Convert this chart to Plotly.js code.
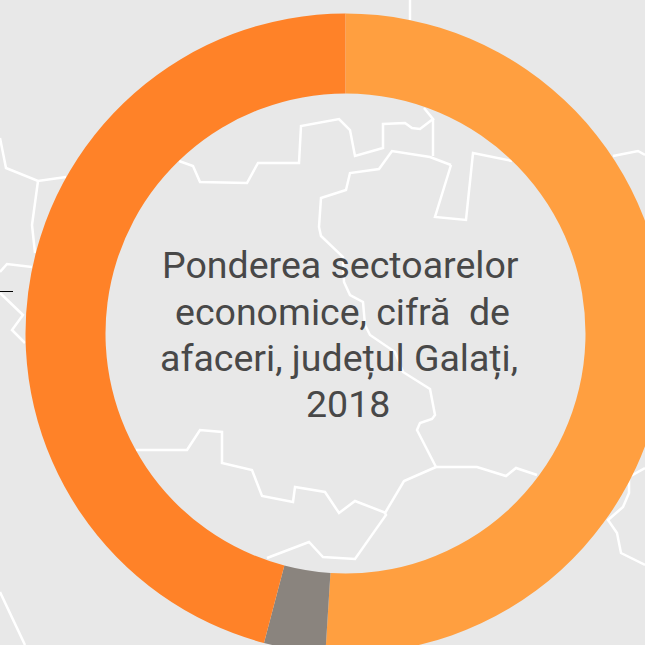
<!DOCTYPE html>
<html>
<head>
<meta charset="utf-8">
<script src="https://cdn.plot.ly/plotly-3.0.1.min.js"></script>
<style>
html,body{margin:0;padding:0;width:645px;height:645px;overflow:hidden;background:#e8e8e8}
#chart{width:700px;height:700px}
</style>
</head>
<body>
<div id="chart"></div>
<script>
var sectors = ["Sector A", "Sector B", "Sector C"];
var shares = [51.0, 3.1, 45.9];
var sectorColors = ["#FF9F40", "#8A847E", "#FF8228"];
var titleLines = ["Ponderea sectoarelor", "economice, cifră&nbsp;&nbsp;de", "afaceri, județul Galați,", "2018"];
var titleCenters = [340, 342.5, 338.5, 347.5];
var titleRows = [265, 312, 358, 404];

var topLine = [[410,0],[410,20]];
var nwLine = [[0,138],[6,168],[38,181],[66,177]];
var nwBranch = [[38,181],[32,225],[35,253]];
var westLine = [[32,267],[7,264],[0,272]];
var westLower = [[0,293],[23,315],[12,330],[25,343]];
var northBorder = [[179,161],[193,166],[200,182],[247,183],[258,163],[299,163],[301,126],[339,119],[350,130],[355,156],[383,148],[383,124],[405,123],[412,128],[420,129],[433,119],[424,108]];
var northStem = [[433,119],[433,156]];
var centerBorder = [[451,165],[430,157],[392,151],[379,169],[350,173],[346,190],[321,198],[319,227],[321,236],[343,257],[344,282],[350,295],[363,302],[365,325],[370,335],[395,352],[403,372],[430,389],[435,415],[432,419],[420,423],[417,430],[436,467]];
var pocket = [[451,165],[435,217],[466,220],[473,153],[512,161]];
var eastTop = [[613,156],[638,151],[645,155]];
var southWest = [[136,450],[187,450],[200,430],[222,432],[222,463],[252,470],[262,496],[293,502],[295,487],[325,492],[339,513],[355,501],[386,513]];
var southBorder = [[436,467],[404,481],[385,513],[386,515],[355,559],[323,557],[309,542],[267,558]];
var southEast = [[436,467],[477,467],[506,476],[516,468],[537,475]];
var eastLower = [[645,468],[629,477],[629,493],[623,507],[608,520],[617,533],[621,553],[645,565]];
var cornerLine = [[0,592],[25,645]];
var tickMark = [[0,291.5],[13,291.5]];

var boundaries = [topLine, nwLine, nwBranch, westLine, westLower, northBorder, northStem, centerBorder, pocket, eastTop, southWest, southBorder, southEast, eastLower, cornerLine];

function lineTrace(pts, color, width) {
  return {
    type: "scatter", mode: "lines", hoverinfo: "skip", showlegend: false,
    x: pts.map(function (p) { return p[0]; }),
    y: pts.map(function (p) { return p[1]; }),
    line: {color: color, width: width}
  };
}

var traces = boundaries.map(function (b) { return lineTrace(b, "#ffffff", 2.5); });
traces.push(lineTrace(tickMark, "#000000", 1));
traces.push({
  type: "pie",
  labels: sectors,
  values: shares,
  marker: {colors: sectorColors, line: {width: 0}},
  hole: 0.75,
  sort: false,
  direction: "clockwise",
  rotation: 0,
  textinfo: "none",
  showlegend: false,
  domain: {x: [25.5 / 700, 665.5 / 700], y: [(700 - 653.5) / 700, (700 - 13.5) / 700]}
});

var layout = {
  width: 700, height: 700,
  margin: {l: 0, r: 0, t: 0, b: 0},
  paper_bgcolor: "#e8e8e8",
  plot_bgcolor: "#e8e8e8",
  showlegend: false,
  xaxis: {range: [0, 700], visible: false, fixedrange: true},
  yaxis: {range: [700, 0], visible: false, fixedrange: true},
  annotations: titleLines.map(function (t, i) {
    return {
      text: t,
      xref: "x", yref: "y", x: titleCenters[i], y: titleRows[i],
      xanchor: "center", yanchor: "middle", align: "center",
      showarrow: false,
      font: {family: "Roboto, sans-serif", size: 37.5, color: "#484848"}
    };
  })
};

Plotly.newPlot("chart", traces, layout, {displayModeBar: false, staticPlot: true});
</script>
</body>
</html>
